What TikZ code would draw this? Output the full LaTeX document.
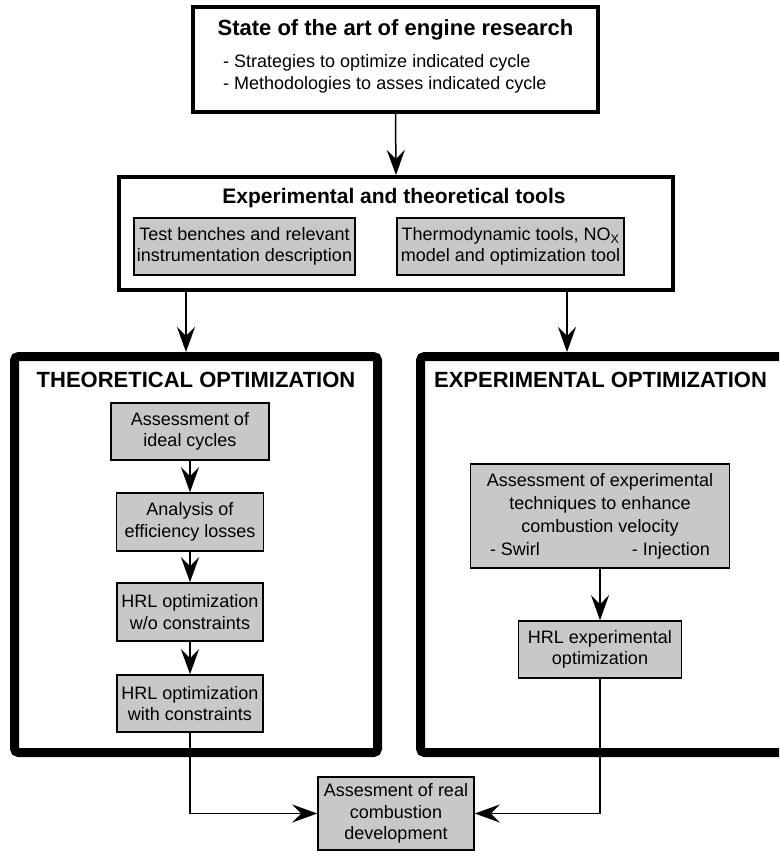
\documentclass[tikz,border=0pt]{standalone}
\usepackage{fontspec}
\setmainfont{Liberation Sans}
\usetikzlibrary{arrows.meta,positioning}
\definecolor{BoxGray}{RGB}{200,200,200}

\begin{document}
\begin{tikzpicture}[x=1pt,y=-1pt,>={Stealth[length=25pt,width=18pt,inset=9pt]},
  txt/.style={font=\fontsize{18}{21.5}\selectfont},
  ttl/.style={font=\fontsize{22}{26}\selectfont\bfseries},
  frame/.style={draw,line width=4pt,inner sep=0pt},
  bigframe/.style={draw,line width=9pt,rounded corners=4pt,inner sep=0pt},
  graybox/.style={draw,line width=1.5pt,fill=BoxGray,inner sep=0pt,align=center,txt},
  link/.style={line width=1.5pt}]
  \useasboundingbox (0,0) rectangle (779,851);
  \clip (0,0) rectangle (779,851);
  % state of the art
  \node[frame,minimum width=405pt,minimum height=105pt] (sota) at (395.5,59.5) {};
  \node[ttl] (sotattl) at (395.5,30) {State of the art of engine research};
  \node[txt,anchor=west,align=left,inner sep=0pt] (sotatxt) at (223,74)
    {- Strategies to optimize indicated cycle\\- Methodologies to asses indicated cycle};
  % tools
  \node[frame,minimum width=554pt,minimum height=113pt] (tools) at (396,233.5) {};
  \node[ttl,font=\fontsize{21}{25}\selectfont\bfseries] (toolsttl) at (394,198)
    {Experimental and theoretical tools};
  \node[graybox,minimum width=221pt,minimum height=57pt] (tb) at (244.5,246.5)
    {Test benches and relevant\\instrumentation description};
  \node[graybox,minimum width=227pt,minimum height=57pt] (td) at (510.5,246.5)
    {Thermodynamic tools, NO\textsubscript{X}\\model and optimization tool};
  \draw[link,->] (sota.south) -- (tools.north);
  % optimization frames
  \node[bigframe,minimum width=363pt,minimum height=396pt] (theo) at (196,554.5) {};
  \node[bigframe,minimum width=390pt,minimum height=396pt] (expe) at (615.5,554.5) {};
  \node[ttl] (theottl) at (196,380) {THEORETICAL OPTIMIZATION};
  \node[ttl] (expettl) at (600.5,380) {EXPERIMENTAL OPTIMIZATION};
  \draw[link,->] (186,0 |- tools.south) -- (186,0 |- theo.north);
  \draw[link,->] (567,0 |- tools.south) -- (567,0 |- expe.north);
  % theoretical chain
  \node[graybox,minimum width=158pt,minimum height=57pt] (ic) at (190,431.5)
    {Assessment of\\ideal cycles};
  \node[graybox,minimum width=147pt,minimum height=58pt] (el) at (190,522)
    {Analysis of\\efficiency losses};
  \node[graybox,minimum width=146pt,minimum height=58pt] (hw) at (190,612)
    {HRL optimization\\w/o constraints};
  \node[graybox,minimum width=146pt,minimum height=57pt] (hc) at (190,703.5)
    {HRL optimization\\with constraints};
  \draw[link,->] (ic) -- (el);
  \draw[link,->] (el) -- (hw);
  \draw[link,->] (hw) -- (hc);
  % experimental chain
  \node[graybox,minimum width=259pt,minimum height=104pt,
    font=\fontsize{18}{23}\selectfont] (ex) at (600,516)
    {Assessment of experimental\\techniques to enhance\\combustion velocity\\
     \makebox[220pt]{- Swirl\hfill- Injection}};
  \node[graybox,minimum width=163pt,minimum height=57pt] (he) at (600,649.5)
    {HRL experimental\\optimization};
  \draw[link,->] (ex) -- (he);
  % real combustion
  \node[graybox,minimum width=156pt,minimum height=73pt] (rc) at (396,813.5)
    {Assesment of real\\combustion\\development};
  \draw[link,->] (hc.south) |- (rc.west);
  \draw[link,->] (he.south) |- (rc.east);
\end{tikzpicture}
\end{document}
